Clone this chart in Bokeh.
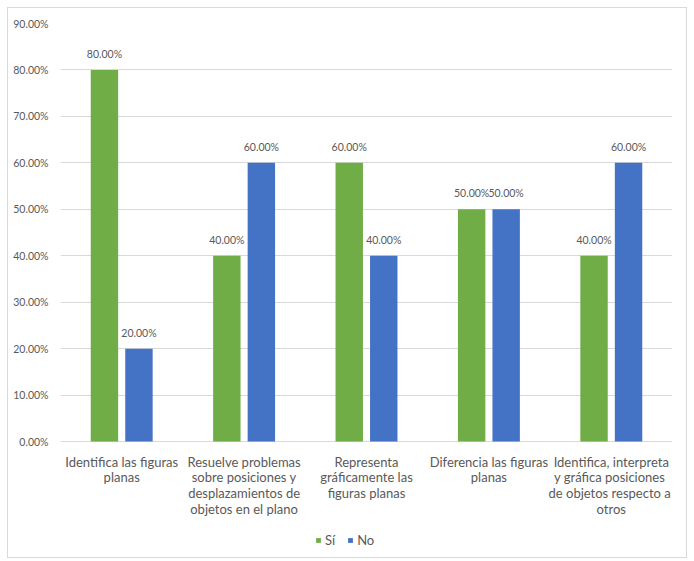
from bokeh.plotting import figure
from bokeh.models import ColumnDataSource, FixedTicker, NumeralTickFormatter, Range1d, Legend, LegendItem, LabelSet
from bokeh.core.properties import value
from bokeh.embed import file_html
from bokeh.resources import INLINE

categories = [
    "Identifica las figuras planas",
    "Resuelve problemas sobre posiciones y desplazamientos de objetos en el plano",
    "Representa gráficamente las figuras planas",
    "Diferencia las figuras planas",
    "Identifica, interpreta y gráfica  posiciones de objetos  respecto a otros",
]
tick_labels = [
    "Identifica las figuras\nplanas",
    "Resuelve problemas\nsobre posiciones y\ndesplazamientos de\nobjetos en el plano",
    "Representa\ngráficamente las\nfiguras planas",
    "Diferencia las figuras\nplanas",
    "Identifica, interpreta\ny gráfica  posiciones\nde objetos  respecto a\notros",
]
si_values = [0.80, 0.40, 0.60, 0.50, 0.40]
no_values = [0.20, 0.60, 0.40, 0.50, 0.60]
y_ticks = [0.0, 0.1, 0.2, 0.3, 0.4, 0.5, 0.6, 0.7, 0.8, 0.9]

GREEN = "#70AD47"
BLUE = "#4472C4"
TXT = "#595959"
GRID = "#D9D9D9"
FONT = "Lato"
NUM_SIZE = "10.5px"
TXT_SIZE = "13px"
LINE_STEP = 15.7

centers = [i + 0.5 for i in range(len(categories))]
off = 0.141
bw = 0.224
src_si = ColumnDataSource(dict(x=[c - off for c in centers], y=si_values,
                               lab=["%.2f%%" % (v * 100) for v in si_values]))
src_no = ColumnDataSource(dict(x=[c + off for c in centers], y=no_values,
                               lab=["%.2f%%" % (v * 100) for v in no_values]))

# one entry per label line so every line is centred under its category
cx, cy, ctext, coff = [], [], [], []
for c, lab in zip(centers, tick_labels):
    for k, line in enumerate(lab.split("\n")):
        cx.append(c)
        cy.append(0.0)
        ctext.append(line)
        coff.append(-12 - LINE_STEP * k)
src_cat = ColumnDataSource(dict(x=cx, y=cy, lab=ctext, off=coff))

# frame extends below zero to leave room for category labels and legend inside the frame
p = figure(width=680, height=551, output_backend="svg", toolbar_location=None,
           x_range=Range1d(0, len(categories)), y_range=Range1d(-0.254, 0.9),
           min_border_left=52, min_border_right=16, min_border_top=15, min_border_bottom=0,
           styles={"margin-left": "7px", "margin-top": "7px", "border": "1px solid #D9D9D9"})
p.outline_line_color = None
p.background_fill_color = "white"
p.border_fill_color = "white"

r_si = p.vbar(x="x", top="y", width=bw, source=src_si, fill_color=GREEN, line_color=None)
r_no = p.vbar(x="x", top="y", width=bw, source=src_no, fill_color=BLUE, line_color=None)

for src in (src_si, src_no):
    p.add_layout(LabelSet(x="x", y="y", text="lab", source=src, y_offset=10,
                          text_align="center", text_baseline="bottom",
                          text_font=value(FONT), text_font_size=NUM_SIZE, text_color=TXT))

p.add_layout(LabelSet(x="x", y="y", text="lab", source=src_cat, y_offset="off",
                      text_align="center", text_baseline="top",
                      text_font=value(FONT), text_font_size=TXT_SIZE, text_color=TXT))

p.xaxis.visible = False
p.xgrid.grid_line_color = None

p.yaxis.ticker = FixedTicker(ticks=y_ticks)
p.yaxis.formatter = NumeralTickFormatter(format="0.00%")
p.yaxis.axis_line_color = None
p.yaxis.major_tick_line_color = None
p.yaxis.minor_tick_line_color = None
p.yaxis.major_tick_out = 0
p.yaxis.minor_tick_out = 0
p.yaxis.major_label_standoff = 12
p.yaxis.major_label_text_font = FONT
p.yaxis.major_label_text_font_size = NUM_SIZE
p.yaxis.major_label_text_color = TXT
p.ygrid.grid_line_color = GRID
p.ygrid.ticker = FixedTicker(ticks=y_ticks)

legend = Legend(items=[LegendItem(label="Sí", renderers=[r_si]), LegendItem(label="No", renderers=[r_no])],
                orientation="horizontal", location=(255, 11),
                glyph_width=6, glyph_height=6, label_standoff=4, spacing=12, label_width=0,
                label_text_font=FONT, label_text_font_size=TXT_SIZE, label_text_color=TXT,
                border_line_color=None, background_fill_alpha=0, padding=2, margin=0)
p.add_layout(legend, "center")

open("out.html", "w").write(file_html(p, INLINE))
